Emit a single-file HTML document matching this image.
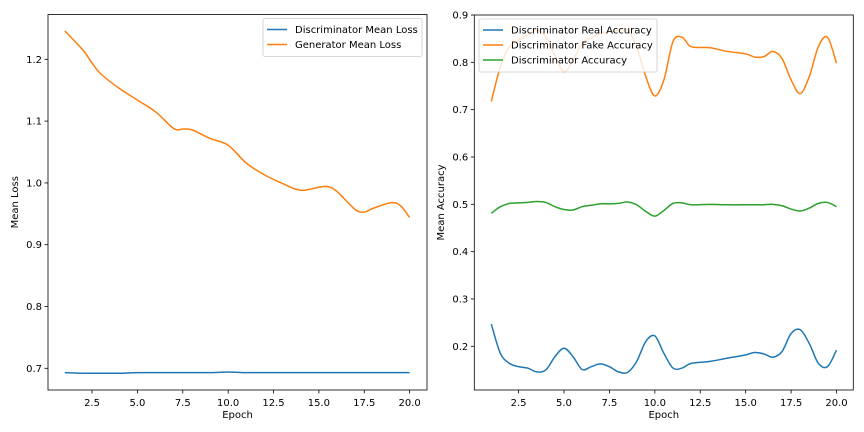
<!DOCTYPE html>
<html><head><meta charset="utf-8"><style>
body{margin:0;background:#fff;}
svg{display:block;font-family:"DejaVu Sans","Liberation Sans",sans-serif;}
</style></head><body>
<svg id="c" width="864" height="432"></svg>
<script>
const lossEpochs=[1,2,2.5,3,4,5,6,7,7.5,8,9,10,11,12,13,14,15,15.5,16,17,17.5,18,19,19.5,20];
const genLoss=[1.246,1.215,1.194,1.176,1.153,1.134,1.115,1.088,1.087,1.086,1.072,1.061,1.032,1.013,0.999,0.988,0.993,0.994,0.986,0.957,0.953,0.959,0.968,0.963,0.944];
const discLoss=[0.693,0.692,0.692,0.692,0.692,0.693,0.693,0.693,0.693,0.693,0.693,0.694,0.693,0.693,0.693,0.693,0.693,0.693,0.693,0.693,0.693,0.693,0.693,0.693,0.693];
const accEpochs=[1,1.5,2,2.5,3,3.5,4,4.5,5,5.5,6,6.5,7,7.5,8,8.5,9,9.5,10,10.5,11,11.5,12,13,14,15,15.5,16,16.5,17,17.5,18,18.5,19,19.5,20];
const fakeAcc=[0.717,0.791,0.833,0.847,0.858,0.868,0.854,0.815,0.780,0.805,0.840,0.852,0.861,0.864,0.867,0.868,0.833,0.770,0.729,0.763,0.844,0.853,0.833,0.831,0.823,0.818,0.811,0.812,0.823,0.808,0.763,0.734,0.770,0.833,0.853,0.798];
const realAcc=[0.247,0.185,0.164,0.157,0.154,0.146,0.150,0.178,0.196,0.178,0.151,0.157,0.163,0.157,0.146,0.145,0.168,0.210,0.222,0.185,0.154,0.154,0.164,0.168,0.175,0.182,0.187,0.184,0.177,0.189,0.227,0.235,0.206,0.164,0.157,0.192];
const discAcc=[0.481,0.495,0.502,0.503,0.504,0.506,0.504,0.495,0.489,0.488,0.495,0.498,0.501,0.501,0.502,0.505,0.499,0.485,0.475,0.487,0.502,0.503,0.499,0.500,0.499,0.499,0.499,0.499,0.500,0.497,0.490,0.486,0.492,0.502,0.504,0.495];
const xTicks=[2.5,5.0,7.5,10.0,12.5,15.0,17.5,20.0];
const lossTicks=[0.7,0.8,0.9,1.0,1.1,1.2];
const accTicks=[0.2,0.3,0.4,0.5,0.6,0.7,0.8,0.9];

const svg=document.getElementById('c');
const NS='http://www.w3.org/2000/svg';
function mk(tag,attrs,parent){const e=document.createElementNS(NS,tag);for(const k in attrs)e.setAttribute(k,attrs[k]);(parent||svg).appendChild(e);return e;}
function smooth(pts){let d='M'+pts[0][0]+','+pts[0][1];for(let i=0;i<pts.length-1;i++){const p0=pts[Math.max(0,i-1)],p1=pts[i],p2=pts[i+1],p3=pts[Math.min(pts.length-1,i+2)];const c1x=p1[0]+(p2[0]-p0[0])/6,c1y=p1[1]+(p2[1]-p0[1])/6,c2x=p2[0]-(p3[0]-p1[0])/6,c2y=p2[1]-(p3[1]-p1[1])/6;d+=' C'+c1x+','+c1y+' '+c2x+','+c2y+' '+p2[0]+','+p2[1];}return d;}

function panel(o){
  const g=mk('g',{});
  
  
  const sx=v=>o.x1+(v-1)*o.kx, sy=v=>o.yRef+(o.vRef-v)*o.ky;
  o.series.forEach(s=>{
    const p=mk('path',{d:smooth(s.xs.map((x,i)=>[sx(x),sy(s.ys[i])])),fill:'none',stroke:s.color,'stroke-width':1.5},g);
    
    
  });
  const fr=mk('rect',{x:o.L,y:o.T,width:o.R-o.L,height:o.B-o.T,fill:'none',stroke:'#000','stroke-width':0.8},g);
  
  
  xTicks.forEach(t=>{const x=sx(t);mk('line',{x1:x,x2:x,y1:o.B,y2:o.B+3.5,stroke:'#000','stroke-width':0.8},g);
    const tx=mk('text',{x:x,y:o.B+16,'font-size':10,'text-anchor':'middle',fill:'#000'},g);tx.textContent=t.toFixed(1);
    
    });
  o.yTicks.forEach(t=>{const y=sy(t);mk('line',{x1:o.L-3.5,x2:o.L,y1:y,y2:y,stroke:'#000','stroke-width':0.8},g);
    const tx=mk('text',{x:o.L-6,y:y+3.5,'font-size':10,'text-anchor':'end',fill:'#000'},g);tx.textContent=t.toFixed(1);
    
    });
  const xl=mk('text',{x:(o.L+o.R)/2,y:418,'font-size':10,'text-anchor':'middle'},g);xl.textContent='Epoch';
  
  
  const yl=mk('text',{x:o.ylx,y:(o.T+o.B)/2,'font-size':10,'text-anchor':'middle',transform:'rotate(-90 '+o.ylx+' '+((o.T+o.B)/2)+')'},g);yl.textContent=o.ylabel;
  
  
  const lg=mk('g',{},g);
  
  
  mk('rect',{x:o.lx,y:o.ly,width:o.lw,height:8+o.series.length*15,fill:'#fff','fill-opacity':0.8,stroke:'#ccc','stroke-width':0.8,rx:2},lg);
  o.series.forEach((s,i)=>{const y=o.ly+11+i*15;
    mk('line',{x1:o.lx+4,x2:o.lx+24,y1:y,y2:y,stroke:s.color,'stroke-width':1.5},lg);
    const t=mk('text',{x:o.lx+32,y:y+3.5,'font-size':10},lg);t.textContent=s.label;
    
    });
}
panel({name:'loss-chart',L:48,R:427,T:14.5,B:390,x1:64.8,kx:18.15,yRef:59.3,vRef:1.2,ky:618,yTicks:lossTicks,ylabel:'Mean Loss',ylx:18,
  lx:263,ly:18.5,lw:159,
  series:[{id:'discriminator-loss-line',label:'Discriminator Mean Loss',color:'#1f77b4',xs:lossEpochs,ys:discLoss},
          {id:'generator-loss-line',label:'Generator Mean Loss',color:'#ff7f0e',xs:lossEpochs,ys:genLoss}]});
panel({name:'accuracy-chart',L:474.3,R:853.3,T:15,B:390,x1:491.3,kx:18.17,yRef:15,vRef:0.9,ky:473.3,yTicks:accTicks,ylabel:'Mean Accuracy',ylx:444,
  lx:479,ly:19,lw:178,
  series:[{id:'real-accuracy-line',label:'Discriminator Real Accuracy',color:'#1f77b4',xs:accEpochs,ys:realAcc},
          {id:'fake-accuracy-line',label:'Discriminator Fake Accuracy',color:'#ff7f0e',xs:accEpochs,ys:fakeAcc},
          {id:'accuracy-line',label:'Discriminator Accuracy',color:'#2ca02c',xs:accEpochs,ys:discAcc}]});
</script>
</body></html>
